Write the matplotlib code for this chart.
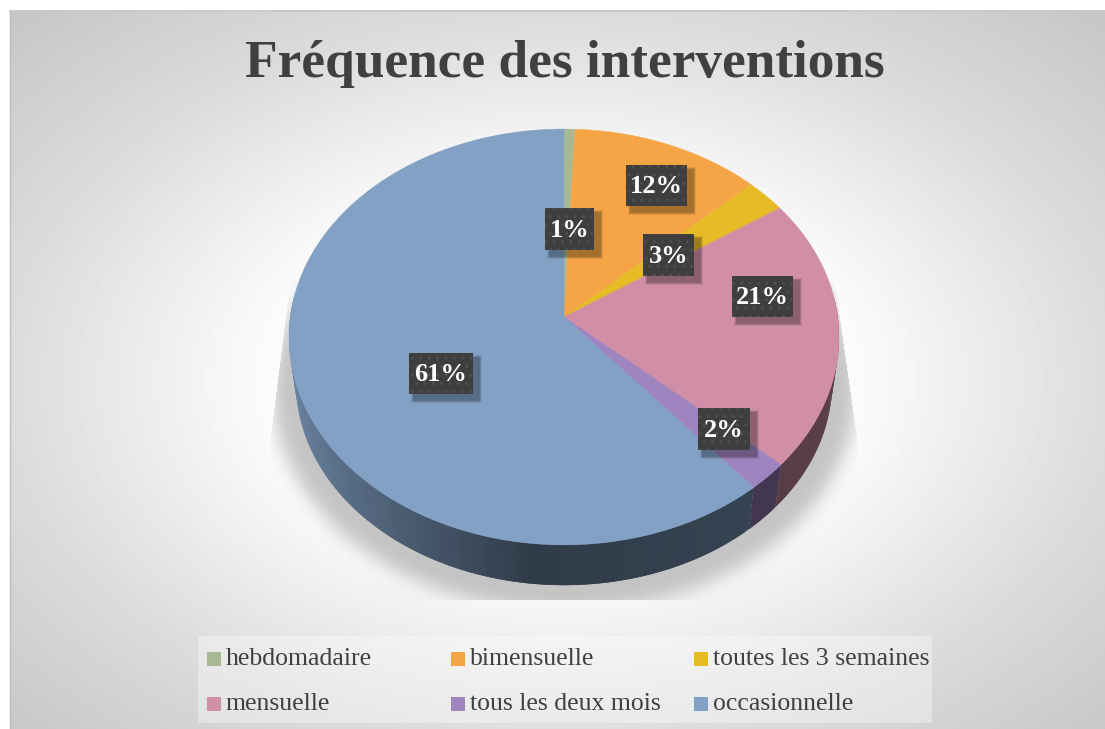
import numpy as np
import matplotlib
matplotlib.use("Agg")
import matplotlib.pyplot as plt
from matplotlib.collections import PolyCollection
from matplotlib.patches import Rectangle
from matplotlib.path import Path

W, H = 1105, 729

title = "Fréquence des interventions"
categories = ["hebdomadaire", "bimensuelle", "toutes les 3 semaines",
              "mensuelle", "tous les deux mois", "occasionnelle"]
values = [0.7, 12.3, 2.6, 21.1, 2.2, 61.1]
colors = ["#a9b894", "#f5a546", "#e6bb26", "#d08fa6", "#9f84bf", "#82a1c5"]

# label boxes and legend layout, in pixels
label_boxes = [(545, 208, 49, 42), (626, 165, 61, 41), (643, 234, 51, 42),
               (732, 276, 61, 41), (698, 408, 52, 42), (409, 353, 64, 41)]
legend_x = [207, 451, 694, 207, 451, 694]
legend_y = [652, 652, 652, 697, 697, 697]

# perspective of the disc
CX, CY = 564, 317
K = 0.096
A = 206.0
B = 273.7
WALL_SCALE = 0.975
WALL_DY = 46


def project(theta, r=1.0, scale=1.0, dy=0.0):
    # theta is measured clockwise from the top, in radians
    x = r * np.sin(theta)
    y = r * np.cos(theta)
    d = 1 + K * y
    return CX + scale * B * x / d, CY + dy - scale * A * y / d


def blur(img, n):
    # three box passes, close enough to a gaussian
    out = img.copy()
    for _ in range(3):
        for axis in (0, 1):
            pad = [(n + 1, n) if a == axis else (0, 0) for a in (0, 1)]
            c = np.cumsum(np.pad(out, pad, mode="edge"), axis=axis)
            if axis == 0:
                out = (c[2 * n + 1:, :] - c[:-(2 * n + 1), :]) / (2 * n + 1)
            else:
                out = (c[:, 2 * n + 1:] - c[:, :-(2 * n + 1)]) / (2 * n + 1)
    return out


fig = plt.figure(figsize=(W / 100, H / 100), dpi=100, facecolor="white")
ax = fig.add_axes([0, 0, 1, 1])

# background panel
PX0, PY0 = 10, 11
yy, xx = np.mgrid[0:H, 0:W]
d = np.sqrt(((xx - 560) / W) ** 2 + ((yy - 380) / H) ** 2)
bg = np.interp(d, [0, 0.28, 0.5, 0.72], [1.0, 0.98, 0.86, 0.77])
ax.imshow(bg, cmap="gray", vmin=0, vmax=1, extent=(0, W, H, 0), aspect="auto",
          zorder=0, interpolation="bilinear")
ax.add_patch(Rectangle((0, 0), W, PY0, fc="white", ec="none", zorder=1))
ax.add_patch(Rectangle((0, 0), PX0, H, fc="white", ec="none", zorder=1))
ax.plot([PX0, W], [PY0, PY0], color="#c4c4c4", lw=1.2, zorder=1)
ax.plot([PX0, PX0], [PY0, H], color="#bcbcbc", lw=1.0, zorder=1)

# soft shadow under the disc, cut off like a reflection
t = np.linspace(0, 2 * np.pi, 400)
sx, sy = project(t, scale=1.06, dy=52)
shadow = Path(np.column_stack([sx, sy])).contains_points(
    np.column_stack([xx.ravel(), yy.ravel()])).reshape(H, W).astype(float)
shadow = blur(shadow, 8)
lx = 290 - (yy - 280) * 20 / 160
rx = 837 + (yy - 300) * 20 / 140
clip = (yy < 600) & (yy > 280) & (xx > np.maximum(lx, 270)) & (xx < np.minimum(rx, 858))
rgba = np.zeros((H, W, 4))
rgba[..., :3] = 0.70
rgba[..., 3] = 0.75 * shadow * clip
ax.imshow(rgba, extent=(0, W, H, 0), aspect="auto", zorder=2)

# side wall and top face
edges = np.cumsum([0] + values) / sum(values) * 2 * np.pi
for i, col in enumerate(colors):
    th = np.linspace(edges[i], edges[i + 1], max(int(values[i] * 4), 12))
    x0, y0 = project(th)
    x1, y1 = project(th, scale=WALL_SCALE, dy=WALL_DY)
    quads = []
    shades = []
    base = np.array(matplotlib.colors.to_rgb(col))
    for j in range(len(th) - 1):
        if np.cos(th[j]) > 0.1:
            continue
        # each quad runs one step into the next, the next one paints over it
        e = min(j + 2, len(th) - 1)
        quads.append([(x0[j], y0[j]), (x0[e], y0[e]), (x1[e], y1[e]), (x1[j], y1[j])])
        f = np.interp(np.sin(th[j]), [-1, -0.75, -0.45, -0.1, 0.6, 1],
                      [0.82, 0.68, 0.53, 0.37, 0.41, 0.44])
        shades.append(base * f)
    for q, s in zip(quads, shades):
        ax.add_collection(PolyCollection([q], facecolors=[s], edgecolors="none",
                                         linewidths=0, zorder=3))

for i, col in enumerate(colors):
    th = np.linspace(edges[i], edges[i + 1], max(int(values[i] * 8), 12))
    x0, y0 = project(th)
    ax.fill(np.r_[CX, x0], np.r_[CY, y0], color=col, lw=0.3, zorder=4)

# data labels
for (bx, by, bw, bh), v in zip(label_boxes, values):
    for n, a in zip((7, 5, 3), (0.08, 0.12, 0.16)):
        ax.add_patch(Rectangle((bx + 5 - n / 2, by + 5 - n / 2), bw + n, bh + n,
                               fc="black", ec="none", alpha=a, zorder=5))
    ax.add_patch(Rectangle((bx, by), bw, bh, fc="#3e3e3e", ec="#4e4e4e",
                           hatch="..", lw=0, zorder=6))
    ax.text(bx + bw / 2, by + bh / 2 + 1, f"{v:.0f}%", color="white", fontsize=19,
            fontweight="bold", family="Liberation Serif", ha="center",
            va="center", zorder=7)

ax.text(565, 64, title, color="#404040", fontsize=38.4, fontweight="bold",
        family="Liberation Serif", ha="center", va="center", zorder=7)

# legend
ax.add_patch(Rectangle((198, 636), 734, 87, fc="white", ec="none", alpha=0.35, zorder=5))
for name, col, lx_, ly_ in zip(categories, colors, legend_x, legend_y):
    ax.add_patch(Rectangle((lx_, ly_), 14, 14, fc=col, ec="none", zorder=6))
    ax.text(lx_ + 19, ly_ + 7, name, color="#404040", fontsize=18.5,
            family="Liberation Serif", ha="left", va="center", zorder=7)

ax.set_xlim(0, W)
ax.set_ylim(H, 0)
ax.axis("off")
fig.savefig("out.png", dpi=100)
